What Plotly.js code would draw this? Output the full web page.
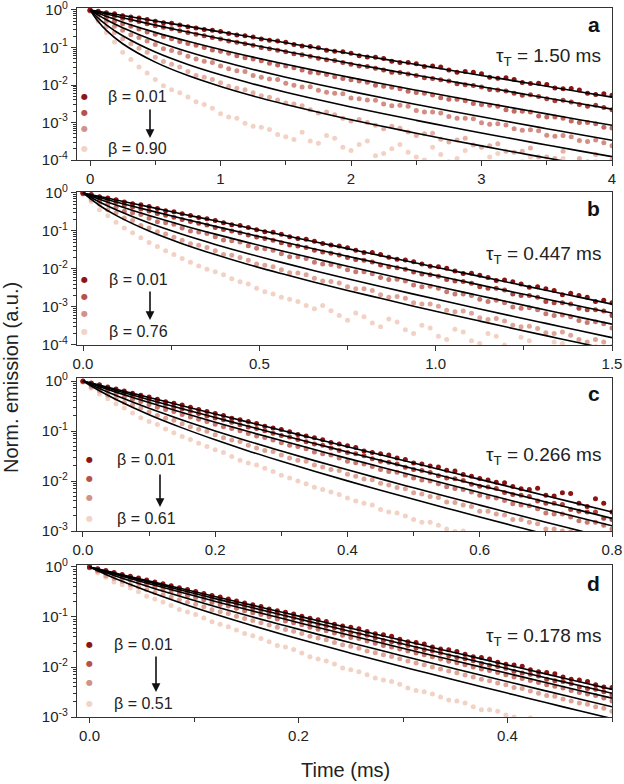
<!DOCTYPE html>
<html><head><meta charset="utf-8">
<script src="https://cdn.plot.ly/plotly-3.0.1.min.js"></script>
<style>html,body{margin:0;padding:0;background:#fff}#chart{width:624px;height:784px}</style>
</head><body><div id="chart"></div>
<script>
// ---------- Panel a (tau_T = 1.50 ms) ----------
const timeA = [0,0.125,0.25,0.375,0.5,0.625,0.75,0.875,1,1.125,1.25,1.375,1.5,1.625,1.75,1.875,2,2.125,2.25,2.375,2.5,2.625,2.75,2.875,3,3.125,3.25,3.375,3.5,3.625,3.75,3.875,4];
const timeAm = [0.0625,0.1875,0.3125,0.4375,0.5625,0.6875,0.8125,0.9375,1.0625,1.1875,1.3125,1.4375,1.5625,1.6875,1.8125,1.9375,2.0625,2.1875,2.3125,2.4375,2.5625,2.6875,2.8125,2.9375,3.0625,3.1875,3.3125,3.4375,3.5625,3.6875,3.8125,3.9375];
const emA1 = [1.0,.85,.70,.61,.50,.44,.36,.30,.265,.215,.19,.155,.137,.11,.098,.079,.070,.056,.051,.040,.037,.032,.025,.023,.020,.0152,.0140,.0110,.0103,.0079,.0074,.0056,.0053];
const emA1m = [.92,.79,.65,.56,.46,.40,.33,.29,.235,.207,.168,.149,.120,.107,.085,.077,.060,.055,.043,.040,.031,.030,.022,.022,.0162,.0157,.0116,.0112,.0083,.0081,.0060,.0058];
const emA2 = [.98,.77,.60,.49,.38,.315,.25,.205,.168,.137,.114,.092,.077,.064,.052,.045,.036,.031,.025,.0215,.0178,.0148,.0127,.0102,.0089,.0074,.0060,.0055,.0043,.0039,.0030,.0029,.0022];
const emA2m = [.87,.68,.54,.43,.345,.28,.224,.186,.149,.125,.100,.085,.068,.058,.047,.040,.032,.028,.022,.0196,.0155,.0138,.0108,.0097,.0076,.0069,.0053,.0049,.0038,.0035,.0027,.0025];
const emA3 = [.97,.63,.43,.31,.225,.172,.128,.100,.079,.060,.049,.038,.032,.025,.021,.0165,.0138,.0118,.0092,.0079,.0063,.0054,.0042,.0038,.0030,.0027,.0020,.0019,.0014,.0013,.0010,.00092,.00071];
const emA3m = [.78,.50,.37,.26,.195,.145,.115,.086,.070,.053,.044,.034,.029,.022,.0190,.0148,.0128,.0099,.0087,.0068,.0060,.0046,.0042,.0032,.0029,.0022,.0020,.0015,.0014,.0011,.0010,.00075];
const emA4 = [.96,.50,.29,.185,.120,.083,.058,.043,.032,.024,.018,.0145,.0112,.0088,.0072,.0060,.0045,.0040,.0031,.0029,.0021,.0019,.00145,.0013,.00098,.00092,.00068,.00064,.00046,.00045,.00033,.00034,.00024];
const emA4m = [.70,.37,.22,.150,.092,.072,.049,.040,.027,.023,.0160,.0140,.0098,.0090,.0064,.0058,.0043,.0039,.0028,.0027,.0019,.0018,.00130,.00125,.00090,.00086,.00062,.00060,.00043,.00042,.00031,.00029];
const emA5 = [.95,.36,.17,.095,.055,.036,.023,.016,.0115,.0082,.0062,.0047,.0033,.0028,.0018,.0016,.0011,.0010,.00068,.00070,.00045,.00052,.00030,.00038,.00022,.00027,.00016,.00021,.00012,.00017,.00011,.00014,.00010];
const emA5m = [.55,.25,.125,.075,.042,.030,.018,.014,.0092,.0075,.0052,.0040,.0031,.0022,.0019,.0013,.0012,.00085,.00080,.00056,.00050,.00036,.00034,.00025,.00024,.00017,.00017,.00012,.00011,.000085,.00009,.00006];
const emA6 = [.93,.25,.075,.030,.014,.0075,.0048,.0030,.0017,.0013,.0008,.00065,.00042,.00055,.00028,.00038,.00018,.00032,.00015,.00026,.00012,.00022,.00009,.00018,.00007,.00015,.00006,.00012,.00005,.00011,.00004,.00009,.00003];
const emA6m = [.50,.14,.048,.021,.0095,.0062,.0036,.0024,.0014,.00095,.00075,.00048,.00035,.00032,.00045,.00022,.00026,.00013,.00020,.00016,.00010,.00014,.00011,.00008,.00012,.00005,.00009,.00007,.00004,.00008,.00006,.00002];
const fitTimeA = [0,0.0625,0.125,0.25,0.5,0.75,1,1.25,1.5,1.75,2,2.25,2.5,2.75,3,3.25,3.5,3.75,4];
const fitA1 = [1,.919,.845,.714,.511,.365,.261,.187,.134,.0957,.0684,.0490,.0351,.0251,.0180,.0129,.00923,.00662,.00474];
const fitA2 = [1,.884,.784,.619,.395,.258,.171,.116,.0787,.0541,.0374,.0261,.0182,.0128,.00902,.00637,.00451,.00320,.00227];
const fitA3 = [1,.817,.675,.473,.253,.146,.0881,.0553,.0356,.0234,.0157,.0106,.00726,.00500,.00348,.00242,.00170,.00119,.000841];
const fitA4 = [1,.730,.551,.336,.150,.0774,.0436,.0260,.0161,.0103,.00675,.00449,.00303,.00206,.00142,.000982,.000684,.000479,.000336];
const fitA5 = [1,.607,.401,.205,.0755,.0352,.0187,.0107,.00644,.00404,.00259,.00171,.00114,.000771,.000526,.000362,.000251,.000175,.000123];
const fitA6 = [1,.492,.286,.126,.0407,.0178,.00912,.00509,.00303,.00187,.00119,.00078,.000518,.000348,.000238,.000163,.000113,7.9e-5,5.5e-5];

// ---------- Panel b (tau_T = 0.447 ms) ----------
const timeB = [0,0.046875,0.09375,0.140625,0.1875,0.234375,0.28125,0.328125,0.375,0.421875,0.46875,0.515625,0.5625,0.609375,0.65625,0.703125,0.75,0.796875,0.84375,0.890625,0.9375,0.984375,1.03125,1.078125,1.125,1.171875,1.21875,1.265625,1.3125,1.359375,1.40625,1.453125,1.5];
const timeBm = [0.0234375,0.0703125,0.1171875,0.1640625,0.2109375,0.2578125,0.3046875,0.3515625,0.3984375,0.4453125,0.4921875,0.5390625,0.5859375,0.6328125,0.6796875,0.7265625,0.7734375,0.8203125,0.8671875,0.9140625,0.9609375,1.0078125,1.0546875,1.1015625,1.1484375,1.1953125,1.2421875,1.2890625,1.3359375,1.3828125,1.4296875,1.4765625];
const emB1 = [1,.80,.66,.52,.44,.34,.285,.225,.19,.146,.124,.096,.082,.063,.054,.043,.036,.027,.024,.018,.0155,.0118,.0105,.0076,.0068,.0050,.0046,.0033,.0030,.0021,.0020,.0014,.0013];
const emB1m = [.91,.74,.58,.49,.39,.32,.255,.21,.164,.139,.108,.092,.071,.061,.047,.040,.031,.027,.0205,.0172,.0136,.0115,.0089,.0077,.0060,.0051,.0040,.0034,.0027,.0023,.0018,.0015];
const emB2 = [.99,.74,.57,.43,.335,.26,.20,.160,.124,.100,.078,.063,.049,.040,.031,.026,.020,.017,.0128,.0108,.0083,.0071,.0053,.0047,.0034,.0031,.0022,.0020,.0014,.0013,.00092,.00085,.00060];
const emB2m = [.84,.64,.48,.38,.29,.231,.178,.143,.110,.090,.069,.057,.043,.037,.028,.0235,.0178,.0152,.0114,.0099,.0074,.0064,.0048,.0042,.0031,.0028,.0020,.0018,.0013,.0012,.00085,.00078];
const emB3 = [.98,.61,.42,.30,.215,.165,.120,.094,.070,.055,.041,.034,.025,.021,.015,.0132,.0095,.0085,.0060,.0054,.0038,.0035,.0025,.0022,.0016,.0015,.0010,.00095,.00066,.00062,.00044,.00041,.00028];
const emB3m = [.76,.51,.33,.27,.175,.150,.100,.086,.058,.051,.035,.031,.021,.019,.0135,.0118,.0085,.0075,.0053,.0048,.0034,.0031,.0022,.0020,.0014,.0013,.00092,.00085,.00060,.00055,.00039,.00036];
const emB4 = [.96,.51,.30,.19,.120,.083,.057,.042,.030,.023,.017,.0125,.0095,.0078,.0057,.0047,.0034,.0030,.0021,.0019,.0013,.0012,.00082,.00078,.00052,.00050,.00033,.00031,.00021,.00022,.00014,.00014,.00009];
const emB4m = [.66,.36,.22,.14,.095,.068,.046,.037,.024,.020,.0135,.0115,.0080,.0070,.0048,.0043,.0030,.0027,.0018,.0017,.0012,.00105,.00075,.00068,.00047,.00043,.00030,.00027,.00020,.00018,.00012,.00012];
const emB5 = [.93,.36,.17,.090,.050,.030,.019,.012,.0085,.0055,.0040,.0025,.0018,.0014,.0009,.0008,.00045,.00055,.00030,.00040,.00020,.00028,.00014,.00022,.00011,.00017,.00008,.00013,.00007,.00011,.00005,.00009,.00004];
const emB5m = [.60,.25,.12,.066,.039,.024,.015,.0098,.0070,.0046,.0031,.0022,.0016,.0011,.0011,.0006,.00070,.00038,.00048,.00025,.00033,.00017,.00026,.00013,.00020,.00010,.00016,.00006,.00012,.00007,.00010,.00005];
const fitTimeB = [0,0.046875,0.09375,0.1875,0.28125,0.375,0.46875,0.5625,0.65625,0.75,0.84375,0.9375,1.03125,1.125,1.21875,1.3125,1.40625,1.5];
const fitB1 = [1,.809,.655,.430,.281,.185,.121,.0796,.0523,.0343,.0225,.0148,.00973,.00640,.00420,.00276,.00182,.00119];
const fitB2 = [1,.760,.582,.348,.213,.132,.0830,.0526,.0336,.0216,.0139,.00902,.00586,.00382,.00249,.00163,.00106,.000697];
const fitB3 = [1,.684,.482,.254,.142,.0826,.0494,.0302,.0188,.0118,.00746,.00476,.00306,.00198,.00128,.000832,.000542,.000353];
const fitB4 = [1,.578,.360,.161,.0815,.0443,.0252,.0149,.00899,.00553,.00345,.00218,.00139,.000889,.000571,.00037,.00024,.000156];
const fitB5 = [1,.469,.257,.0993,.0462,.0239,.0131,.00757,.00449,.00273,.00169,.00105,.000667,.000426,.000273,.000176,.000114,7.4e-5];

// ---------- Panel c (tau_T = 0.266 ms) ----------
const timeC = [0,0.025,0.05,0.075,0.1,0.125,0.15,0.175,0.2,0.225,0.25,0.275,0.3,0.325,0.35,0.375,0.4,0.425,0.45,0.475,0.5,0.525,0.55,0.575,0.6,0.625,0.65,0.675,0.7,0.725,0.75,0.775,0.8];
const timeCm = [0.0125,0.0375,0.0625,0.0875,0.1125,0.1375,0.1625,0.1875,0.2125,0.2375,0.2625,0.2875,0.3125,0.3375,0.3625,0.3875,0.4125,0.4375,0.4625,0.4875,0.5125,0.5375,0.5625,0.5875,0.6125,0.6375,0.6625,0.6875,0.7125,0.7375,0.7625,0.7875];
const emC1 = [1,.84,.69,.57,.48,.385,.33,.27,.225,.18,.155,.125,.107,.085,.073,.059,.051,.040,.035,.029,.023,.020,.0165,.0135,.0112,.0095,.0078,.0068,.0052,.0058,.0036,.0044,.0024];
const emC1m = [.91,.76,.63,.52,.43,.36,.30,.245,.205,.168,.142,.115,.097,.080,.067,.055,.047,.037,.033,.027,.022,.019,.0158,.0125,.0105,.0092,.0070,.0072,.0050,.0056,.0031,.0036];
const emC2 = [.99,.80,.64,.52,.42,.34,.275,.225,.183,.150,.121,.101,.081,.068,.055,.046,.037,.032,.025,.022,.017,.0148,.0115,.0103,.0079,.0071,.0054,.0049,.0036,.0034,.0025,.0024,.0017];
const emC2m = [.89,.71,.58,.46,.38,.30,.25,.200,.168,.134,.113,.090,.076,.061,.052,.041,.035,.028,.0238,.0188,.0162,.0128,.0111,.0086,.0076,.0059,.0052,.0040,.0036,.0027,.0024,.0018];
const emC3 = [.98,.72,.55,.43,.34,.27,.215,.172,.137,.112,.089,.074,.058,.049,.038,.033,.025,.022,.017,.015,.0115,.0100,.0077,.0068,.0052,.0046,.0035,.0032,.0023,.0022,.0016,.0015,.0011];
const emC3m = [.82,.63,.48,.39,.30,.245,.190,.155,.122,.101,.080,.066,.052,.044,.035,.029,.0232,.0195,.0156,.0131,.0105,.0088,.0071,.0060,.0048,.0041,.0033,.0028,.0022,.0019,.0015,.0013];
const emC4 = [.97,.63,.45,.33,.24,.18,.140,.108,.084,.066,.052,.041,.033,.026,.021,.017,.0136,.011,.0090,.0074,.0058,.0049,.0038,.0033,.0025,.0022,.0017,.0015,.0011,.0010,.00076,.00070,.00052];
const emC4m = [.76,.52,.37,.29,.205,.165,.122,.099,.073,.062,.046,.039,.029,.025,.019,.0162,.0125,.0106,.0083,.0070,.0055,.0047,.0037,.0031,.0025,.0021,.0017,.0014,.0011,.00097,.00076,.00066];
const emC5 = [.95,.55,.35,.23,.155,.110,.078,.057,.042,.031,.023,.018,.0130,.0100,.0075,.0060,.0046,.0036,.0027,.0023,.0017,.0015,.0011,.0010,.00072,.00068,.00050,.00045,.00032,.00030,.00021,.0002,.00014];
const emC5m = [.72,.44,.29,.185,.135,.092,.068,.049,.037,.026,.021,.0155,.0115,.0088,.0068,.0054,.0040,.0033,.0024,.0020,.0015,.0013,.00098,.00085,.00064,.00058,.00042,.00038,.00028,.00026,.00019,.00017];
const fitTimeC = [0,0.025,0.05,0.1,0.15,0.2,0.25,0.3,0.35,0.4,0.45,0.5,0.55,0.6,0.65,0.7,0.75,0.8];
const fitC1 = [1,.827,.684,.469,.321,.220,.1508,.1034,.0709,.0486,.0334,.0229,.0157,.01079,.00741,.00508,.00349,.00240];
const fitC2 = [1,.803,.647,.424,.279,.186,.1245,.0836,.0565,.0382,.0259,.0176,.0120,.00818,.0056,.00382,.00262,.00179];
const fitC3 = [1,.771,.600,.371,.234,.150,.0979,.0644,.0427,.0284,.0191,.0129,.00869,.00589,.0040,.00272,.00186,.00127];
const fitC4 = [1,.706,.512,.284,.166,.1005,.0625,.0397,.0256,.01675,.01104,.00733,.0049,.0033,.00222,.0015,.00102,.000693];
const fitC5 = [1,.637,.428,.212,.1156,.0667,.040,.0248,.01567,.01007,.00655,.00431,.00286,.00191,.00128,.000861,.000582,.000395];

// ---------- Panel d (tau_T = 0.178 ms) ----------
const timeD = [0,0.015625,0.03125,0.046875,0.0625,0.078125,0.09375,0.109375,0.125,0.140625,0.15625,0.171875,0.1875,0.203125,0.21875,0.234375,0.25,0.265625,0.28125,0.296875,0.3125,0.328125,0.34375,0.359375,0.375,0.390625,0.40625,0.421875,0.4375,0.453125,0.46875,0.484375,0.5];
const timeDm = [0.0078125,0.0234375,0.0390625,0.0546875,0.0703125,0.0859375,0.1015625,0.1171875,0.1328125,0.1484375,0.1640625,0.1796875,0.1953125,0.2109375,0.2265625,0.2421875,0.2578125,0.2734375,0.2890625,0.3046875,0.3203125,0.3359375,0.3515625,0.3671875,0.3828125,0.3984375,0.4140625,0.4296875,0.4453125,0.4609375,0.4765625,0.4921875];
const emD1 = [1,.85,.71,.60,.50,.42,.355,.295,.25,.21,.176,.145,.124,.103,.088,.072,.062,.051,.044,.036,.031,.025,.022,.018,.0155,.0125,.011,.0088,.0078,.0063,.0055,.0044,.0039];
const emD1m = [.92,.78,.65,.55,.46,.385,.325,.27,.23,.19,.162,.134,.115,.094,.081,.066,.058,.046,.041,.032,.029,.023,.0205,.0160,.0145,.0113,.0103,.0080,.0073,.0057,.0051,.0040];
const emD2 = [.99,.82,.67,.55,.46,.38,.31,.26,.215,.180,.148,.125,.102,.087,.071,.061,.049,.043,.034,.030,.024,.021,.0168,.0146,.0117,.0102,.0082,.0072,.0057,.0051,.0040,.0036,.0028];
const emD2m = [.90,.74,.61,.50,.42,.34,.29,.235,.198,.162,.137,.112,.095,.078,.066,.054,.046,.038,.032,.027,.0222,.0190,.0154,.0133,.0108,.0094,.0076,.0066,.0053,.0046,.0037,.0032];
const emD3 = [.98,.76,.61,.49,.40,.33,.265,.22,.178,.149,.121,.101,.083,.070,.057,.048,.039,.033,.027,.023,.019,.016,.0130,.0111,.0091,.0078,.0063,.0054,.0044,.0038,.0031,.0027,.0021];
const emD3m = [.85,.68,.55,.44,.36,.29,.245,.195,.165,.133,.112,.091,.077,.062,.053,.043,.037,.030,.025,.0208,.0175,.0144,.0121,.0100,.0085,.0070,.0059,.0049,.0041,.0034,.0029,.0024];
const emD4 = [.97,.67,.51,.40,.31,.25,.197,.160,.128,.104,.085,.069,.056,.047,.038,.031,.026,.021,.0175,.0146,.0120,.0100,.0083,.0069,.0057,.0048,.0039,.0033,.0027,.0023,.0019,.0016,.0013];
const emD4m = [.82,.58,.44,.35,.28,.22,.180,.140,.117,.093,.077,.062,.052,.041,.035,.028,.0237,.0192,.0162,.0132,.0111,.0091,.0077,.0063,.0053,.0044,.0037,.0030,.0026,.0021,.0018,.0015];
const emD5 = [.95,.62,.44,.32,.23,.170,.126,.095,.072,.055,.042,.032,.025,.019,.0145,.0115,.0088,.0070,.0055,.0045,.0034,.0029,.0022,.0019,.0014,.0013,.0010,.00095,.00072,.00070,.00052,.0005,.00038];
const emD5m = [.76,.50,.38,.26,.20,.142,.112,.080,.064,.047,.037,.027,.0225,.016,.0132,.0096,.0080,.0060,.0051,.0038,.0032,.0025,.0021,.0016,.0014,.0011,.00088,.00082,.00064,.00058,.00046,.00042];
const fitTimeD = [0,0.015625,0.03125,0.0625,0.09375,0.125,0.15625,0.1875,0.21875,0.25,0.28125,0.3125,0.34375,0.375,0.40625,0.4375,0.46875,0.5];
const fitD1 = [1,.838,.702,.493,.346,.243,.1708,.1200,.0844,.0594,.0418,.0294,.02066,.01454,.01023,.0072,.00506,.00356];
const fitD2 = [1,.824,.679,.465,.319,.220,.1524,.1057,.0736,.0513,.0358,.0251,.01754,.01227,.00861,.00604,.00425,.00298];
const fitD3 = [1,.805,.650,.430,.287,.1936,.1315,.0899,.0618,.0427,.0295,.0205,.01426,.00995,.00695,.00485,.0034,.00238];
const fitD4 = [1,.767,.596,.369,.234,.1517,.100,.0667,.0449,.0305,.0208,.01429,.00986,.00682,.00473,.00329,.0023,.0016];
const fitD5 = [1,.710,.516,.290,.1714,.1054,.0668,.0432,.0284,.0189,.0127,.00863,.00589,.00404,.00278,.00192,.00133,.00093];

// ---------- labels ----------
const tauLabels = ['1.50', '0.447', '0.266', '0.178'];
const betaFirst = ['0.01', '0.01', '0.01', '0.01'];
const betaLast = ['0.90', '0.76', '0.61', '0.51'];
const panelLetters = ['a', 'b', 'c', 'd'];
const xTickA = [0,1,2,3,4], xTextA = ['0','1','2','3','4'];
const xTickB = [0,0.5,1,1.5], xTextB = ['0.0','0.5','1.0','1.5'];
const xTickC = [0,0.2,0.4,0.6,0.8], xTextC = ['0.0','0.2','0.4','0.6','0.8'];
const xTickD = [0,0.2,0.4], xTextD = ['0.0','0.2','0.4'];

// ---------- styles ----------
const FONT = '"Liberation Sans", Arial, Helvetica, sans-serif';
const pal6 = ['#8b1414','#a8403a','#c26a62','#d48d82','#e6b1a5','#f3d2c6'];
const pal5 = ['#8b1414','#ad463f','#c87a71','#dea699','#f3d2c6'];
const legendDots = ['#8b1414','#b5524b','#d1928a','#f4d3c7'];

const panels = [
  {xa:'x', ya:'y', t:timeA, tm:timeAm, ft:fitTimeA, data:[emA1,emA2,emA3,emA4,emA5,emA6], mid:[emA1m,emA2m,emA3m,emA4m,emA5m,emA6m], fits:[fitA1,fitA2,fitA3,fitA4,fitA5,fitA6], pal:pal6},
  {xa:'x2', ya:'y2', t:timeB, tm:timeBm, ft:fitTimeB, data:[emB1,emB2,emB3,emB4,emB5], mid:[emB1m,emB2m,emB3m,emB4m,emB5m], fits:[fitB1,fitB2,fitB3,fitB4,fitB5], pal:pal5},
  {xa:'x3', ya:'y3', t:timeC, tm:timeCm, ft:fitTimeC, data:[emC1,emC2,emC3,emC4,emC5], mid:[emC1m,emC2m,emC3m,emC4m,emC5m], fits:[fitC1,fitC2,fitC3,fitC4,fitC5], pal:pal5},
  {xa:'x4', ya:'y4', t:timeD, tm:timeDm, ft:fitTimeD, data:[emD1,emD2,emD3,emD4,emD5], mid:[emD1m,emD2m,emD3m,emD4m,emD5m], fits:[fitD1,fitD2,fitD3,fitD4,fitD5], pal:pal5}
];

const traces = [];
panels.forEach(p => {
  for (let k = p.data.length - 1; k >= 0; k--) {
    traces.push({type:'scatter', mode:'markers', x:p.t.concat(p.tm), y:p.data[k].concat(p.mid[k]),
      xaxis:p.xa, yaxis:p.ya, marker:{size:5, color:p.pal[k]}, hoverinfo:'skip'});
  }
  p.fits.forEach(f => {
    traces.push({type:'scatter', mode:'lines', x:p.ft, y:f, xaxis:p.xa, yaxis:p.ya,
      line:{color:'#000', width:1.6, shape:'spline', smoothing:1}, hoverinfo:'skip'});
  });
});

function xax(anchor, range, tv, tt, minorD) {
  return {domain:[0,1], anchor:anchor, range:range, tickmode:'array', tickvals:tv, ticktext:tt,
    ticks:'outside', ticklen:5, tickwidth:1.2, tickcolor:'#333', ticklabeloverflow:'allow',
    showline:true, mirror:true, linecolor:'#333', linewidth:1.3, showgrid:false, zeroline:false,
    tickfont:{family:FONT, size:15, color:'#222'},
    minor:{tickmode:'linear', tick0:0, dtick:minorD, ticks:'outside', ticklen:4, tickwidth:1.1, tickcolor:'#333', showgrid:false}};
}
function yax(anchor, domain, range, lowExp) {
  const tv = [], tt = [], mv = [];
  for (let e = lowExp; e <= 0; e++) {
    tv.push(Math.pow(10, e));
    tt.push('10<sup>' + (e < 0 ? '-' : '') + Math.abs(e) + '</sup>');
    if (e < 0) for (let m = 2; m <= 9; m++) mv.push(m * Math.pow(10, e));
  }
  return {domain:domain, anchor:anchor, type:'log', range:range, tickmode:'array', tickvals:tv, ticktext:tt,
    ticks:'outside', ticklen:5, tickwidth:1.2, tickcolor:'#333', ticklabeloverflow:'allow',
    showline:true, mirror:true, linecolor:'#333', linewidth:1.3, showgrid:false, zeroline:false,
    tickfont:{family:FONT, size:15, color:'#222'},
    minor:{tickmode:'array', tickvals:mv, ticks:'outside', ticklen:3, tickwidth:1, tickcolor:'#333', showgrid:false}};
}

const W = 535, L = 77, B = 717, H = 709;
const px = v => (v - L) / W;
const py = v => (B - v) / H;

const ann = [];
ann.push({xref:'paper', yref:'paper', x:px(11), y:py(378), text:'Norm. emission (a.u.)', textangle:-90, showarrow:false,
  font:{family:FONT, size:20, color:'#222'}, xanchor:'center', yanchor:'middle'});
ann.push({xref:'paper', yref:'paper', x:px(345), y:py(770), text:'Time (ms)', showarrow:false,
  font:{family:FONT, size:20, color:'#222'}, xanchor:'center', yanchor:'middle'});

const letterY = [0.89, 0.895, 0.90, 0.88];
const tauY = [0.68, 0.588, 0.49, 0.526];
const dotX = [84, 84, 89, 89];
const dotY = [[96,112,129,148],[279,296,313,332],[459,478,497,518],[644,663,682,703]];
const textX = [106, 107, 115, 112];
const arrowX = [150, 150, 160, 156];
const arrowHead = [138, 320, 507, 692];
const arrowLen = [30, 30, 34, 37];
const xr = ['x','x2','x3','x4'], yr = ['y','y2','y3','y4'];

for (let i = 0; i < 4; i++) {
  ann.push({xref:xr[i]+' domain', yref:yr[i]+' domain', x:0.981, y:letterY[i], text:'<b>'+panelLetters[i]+'</b>',
    showarrow:false, xanchor:'right', yanchor:'middle', font:{family:FONT, size:21, color:'#111'}});
  ann.push({xref:xr[i]+' domain', yref:yr[i]+' domain', x:0.983, y:tauY[i], text:'τ<sub>T</sub> = '+tauLabels[i]+' ms',
    showarrow:false, xanchor:'right', yanchor:'middle', font:{family:FONT, size:19, color:'#222'}});
  dotY[i].forEach((yy, k) => {
    ann.push({xref:'paper', yref:'paper', x:px(dotX[i]), y:py(yy), text:'●', showarrow:false,
      xanchor:'center', yanchor:'middle', font:{family:'DejaVu Sans', size:8, color:legendDots[k]}});
  });
  ann.push({xref:'paper', yref:'paper', x:px(textX[i]), y:py(dotY[i][0]), text:'β = '+betaFirst[i], showarrow:false,
    xanchor:'left', yanchor:'middle', font:{family:FONT, size:16, color:'#222'}});
  ann.push({xref:'paper', yref:'paper', x:px(textX[i]), y:py(dotY[i][3]), text:'β = '+betaLast[i], showarrow:false,
    xanchor:'left', yanchor:'middle', font:{family:FONT, size:16, color:'#222'}});
  ann.push({xref:'paper', yref:'paper', x:px(arrowX[i]), y:py(arrowHead[i]), axref:'pixel', ayref:'pixel',
    ax:0, ay:-arrowLen[i], text:'', showarrow:true, arrowhead:2, arrowsize:1.1, arrowwidth:1.6, arrowcolor:'#111', standoff:0, startstandoff:0});
}

const layout = {
  width:624, height:784, margin:{l:77, r:12, t:8, b:67},
  paper_bgcolor:'#fff', plot_bgcolor:'#fff', showlegend:false,
  font:{family:FONT, color:'#222'},
  xaxis: xax('y', [-0.1, 4], xTickA, xTextA, 0.5),
  xaxis2: xax('y2', [-0.017, 1.5], xTickB, xTextB, 0.25),
  xaxis3: xax('y3', [-0.009, 0.8], xTickC, xTextC, 0.1),
  xaxis4: xax('y4', [-0.012, 0.5], xTickD, xTextD, 0.1),
  yaxis: yax('x', [0.7856, 1], [-4, 0.053], -4),
  yaxis2: yax('x2', [0.5247, 0.7405], [-4, 0.026], -4),
  yaxis3: yax('x3', [0.2623, 0.4781], [-3, 0.06], -3),
  yaxis4: yax('x4', [0, 0.2144], [-3, 0.04], -3),
  annotations: ann
};
Plotly.newPlot('chart', traces, layout, {displayModeBar:false});
</script></body></html>
